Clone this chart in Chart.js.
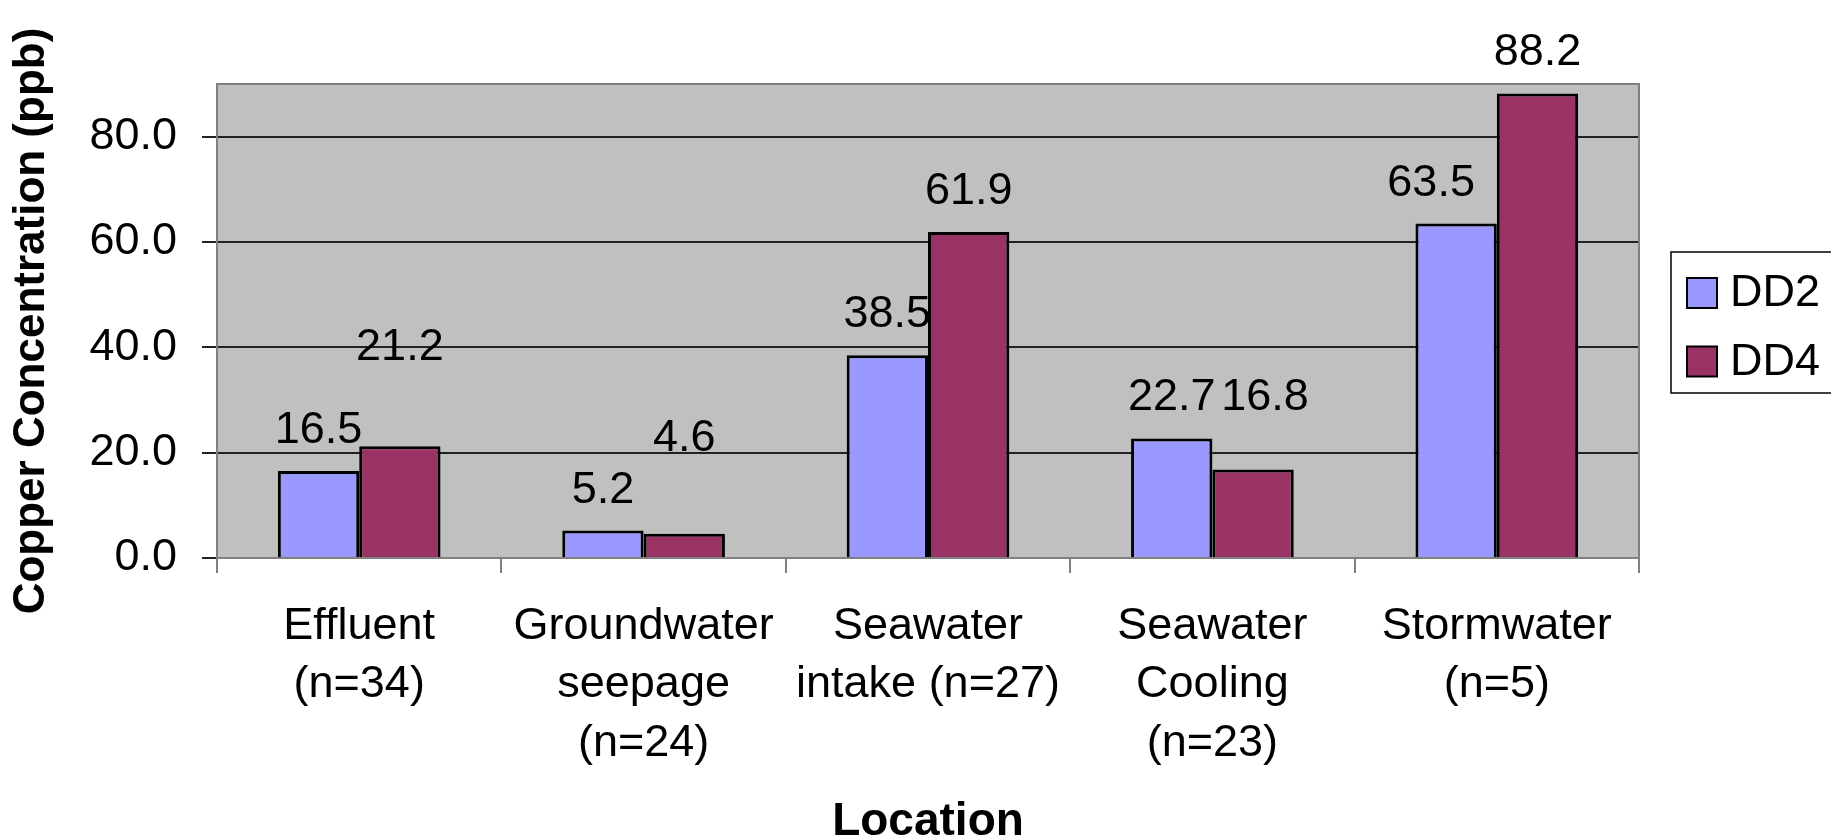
<!DOCTYPE html>
<html>
<head>
<meta charset="utf-8">
<script src="https://cdn.jsdelivr.net/npm/chart.js@4.4.1/dist/chart.umd.min.js"></script>
<style>
html,body{margin:0;padding:0;background:#fff;}
#wrap{width:1831px;height:837px;position:relative;}
</style>
</head>
<body>
<div id="wrap"><canvas id="c" width="1831" height="837"></canvas></div>
<script>
const categories = [
  ["Effluent", "(n=34)"],
  ["Groundwater", "seepage", "(n=24)"],
  ["Seawater", "intake (n=27)"],
  ["Seawater", "Cooling", "(n=23)"],
  ["Stormwater", "(n=5)"]
];
const seriesNames = ["DD2", "DD4"];
const dd2Values = [16.5, 5.2, 38.5, 22.7, 63.5];
const dd4Values = [21.2, 4.6, 61.9, 16.8, 88.2];
const yTicks = [0, 20, 40, 60, 80];
const yMax = 90;

// manual nudges of the value labels (as placed in the original), in px: [dx, dy]
const dd2LabelNudge = [[0, 0], [0, 0], [0, 0], [0, 0], [-25, 0]];
const dd4LabelNudge = [[0, -58], [0, -55], [0, 0], [12, -32], [0, 0]];

const FONT = "'Liberation Sans', Arial, sans-serif";

const plotBg = {
  id: 'plotBg',
  beforeDraw(chart) {
    const {ctx, chartArea: a} = chart;
    ctx.save();
    ctx.fillStyle = '#C0C0C0';
    ctx.fillRect(a.left, a.top, a.right - a.left, a.bottom - a.top);
    ctx.restore();
  },
  afterDatasetsDraw(chart) {
    const {ctx, chartArea: a} = chart;
    ctx.save();
    ctx.strokeStyle = '#808080';
    ctx.lineWidth = 2;
    ctx.beginPath();
    ctx.moveTo(a.left, a.top);
    ctx.lineTo(a.right, a.top);
    ctx.lineTo(a.right, a.bottom);
    ctx.stroke();
    ctx.restore();
  }
};

const valueLabels = {
  id: 'valueLabels',
  afterDatasetsDraw(chart) {
    const {ctx} = chart;
    const nudges = [dd2LabelNudge, dd4LabelNudge];
    ctx.save();
    ctx.font = "45px " + FONT;
    ctx.fillStyle = '#000';
    ctx.textAlign = 'center';
    ctx.textBaseline = 'alphabetic';
    chart.data.datasets.forEach((ds, di) => {
      const meta = chart.getDatasetMeta(di);
      meta.data.forEach((bar, i) => {
        const [dx, dy] = nudges[di][i];
        ctx.fillText(ds.data[i].toFixed(1), bar.x + dx, bar.y - 28 + dy);
      });
    });
    ctx.restore();
  }
};

const boxLegend = {
  id: 'boxLegend',
  afterDraw(chart) {
    const {ctx} = chart;
    const x0 = 1671, y0 = 252, w = 170, h = 141;
    ctx.save();
    ctx.fillStyle = '#fff';
    ctx.fillRect(x0, y0, w, h);
    ctx.strokeStyle = '#000';
    ctx.lineWidth = 1.5;
    ctx.strokeRect(x0, y0, w, h);
    ctx.font = "45px " + FONT;
    ctx.textAlign = 'left';
    ctx.textBaseline = 'middle';
    chart.data.datasets.forEach((ds, i) => {
      const sy = 278 + i * 68.5;
      ctx.fillStyle = ds.backgroundColor;
      ctx.fillRect(1687, sy, 30, 30);
      ctx.strokeStyle = '#000';
      ctx.lineWidth = 2;
      ctx.strokeRect(1687, sy, 30, 30);
      ctx.fillStyle = '#000';
      ctx.fillText(ds.label, 1730, sy + 16);
    });
    ctx.restore();
  }
};

new Chart(document.getElementById('c'), {
  type: 'bar',
  data: {
    labels: categories,
    datasets: [
      {label: seriesNames[0], data: dd2Values, backgroundColor: '#9999FF', borderColor: '#000', borderWidth: 3},
      {label: seriesNames[1], data: dd4Values, backgroundColor: '#993366', borderColor: '#000', borderWidth: 3}
    ]
  },
  options: {
    responsive: false,
    animation: false,
    devicePixelRatio: 1,
    layout: {padding: {left: 0, right: 192, top: 84, bottom: 0}},
    datasets: {bar: {categoryPercentage: 0.572, barPercentage: 1.0}},
    plugins: {legend: {display: false}, tooltip: {enabled: false}},
    scales: {
      x: {
        grid: {display: true, drawOnChartArea: false, drawTicks: true, tickLength: 15, color: '#808080', lineWidth: 2, offset: true},
        border: {display: true, color: '#808080', width: 2},
        ticks: {color: '#000', font: {family: FONT, size: 45, lineHeight: 1.29}, padding: 25, maxRotation: 0, autoSkip: false},
        title: {display: true, text: 'Location', color: '#000', font: {family: FONT, size: 46, weight: 'bold', lineHeight: 0.62}, padding: 0},
        afterFit(scale) { scale.height = 279; }
      },
      y: {
        min: 0, max: yMax,
        afterBuildTicks(scale) { scale.ticks = yTicks.map(v => ({value: v})); },
        grid: {color: '#222', lineWidth: 2, tickLength: 15, drawTicks: true},
        border: {display: true, color: '#808080', width: 2},
        ticks: {color: '#000', font: {family: FONT, size: 45}, padding: 25, callback: v => Number(v).toFixed(1)},
        title: {display: true, text: 'Copper Concentration (ppb)', color: '#000', font: {family: FONT, size: 44, weight: 'bold', lineHeight: 1.2}, padding: {top: 5, bottom: 0}},
        afterFit(scale) { scale.width = 217; }
      }
    }
  },
  plugins: [plotBg, valueLabels, boxLegend]
});
</script>
</body>
</html>
